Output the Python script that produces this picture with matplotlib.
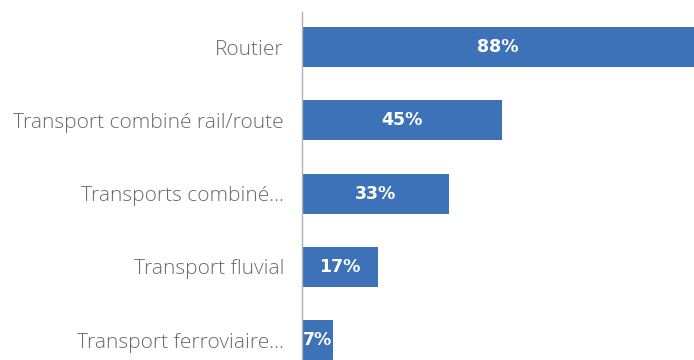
import matplotlib
matplotlib.use("Agg")
import matplotlib.pyplot as plt

# data (top to bottom)
categories = ["Routier", "Transport combiné rail/route", "Transports combiné...",
              "Transport fluvial", "Transport ferroviaire..."]
values = [88, 45, 33, 17, 7]
value_labels = ["88%", "45%", "33%", "17%", "7%"]

bar_color = "#3d72b9"
text_gray = "#6a6a6a"

fig = plt.figure(figsize=(6.94, 3.60), dpi=100)
ax = fig.add_axes([302 / 694, 0.0, 1 - 302 / 694, 1 - 12 / 360])

ypos = list(range(len(categories)))
bars = ax.barh(ypos, values, height=0.546, color=bar_color)

for b, lab in zip(bars, value_labels):
    ax.text(b.get_x() + b.get_width() / 2, b.get_y() + b.get_height() / 2, lab,
            ha="center", va="center", color="white", fontsize=12.5,
            fontweight="bold", family="DejaVu Sans")

ax.set_xlim(0, 88)
ax.set_ylim(4.27, -0.478)
ax.set_yticks(ypos)
ax.set_yticklabels(categories, fontsize=15, color=text_gray,
                   family=["Open Sans", "DejaVu Sans"], fontweight="light")
ax.tick_params(axis="y", length=0, pad=13)
ax.set_xticks([])

for s in ["top", "right", "bottom"]:
    ax.spines[s].set_visible(False)
ax.spines["left"].set_color("#b0b0b0")
ax.spines["left"].set_linewidth(1)

fig.savefig("out.png", dpi=100)
